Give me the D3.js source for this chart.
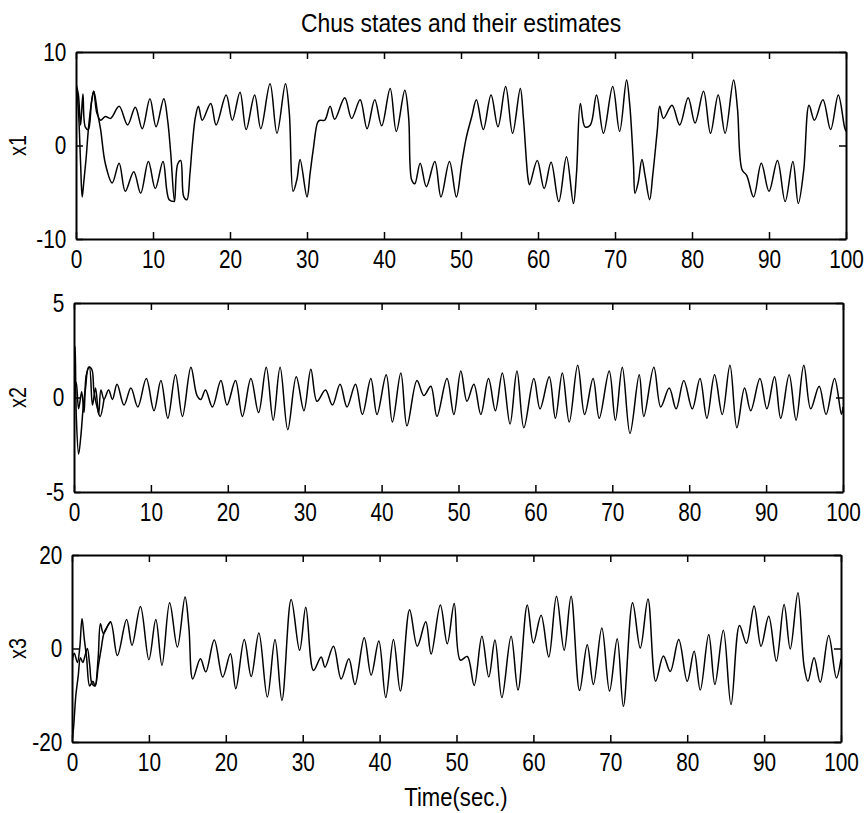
<!DOCTYPE html>
<html>
<head>
<meta charset="utf-8">
<script src="https://cdn.jsdelivr.net/npm/d3@7"></script>
<style>
  body { margin: 0; background: #fff; }
  svg text { fill: #000; }
</style>
</head>
<body>
<svg id="chart" width="864" height="813"></svg>
<script>
// x1: state (full run) and its estimate (only the start, later it sits on the state)
const x1Time = [0, 0.3, 0.6, 0.9, 1.2, 1.6, 2.0, 2.3, 2.7, 3.2, 3.8, 4.5, 5.6, 6.7, 7.7, 8.6, 9.6, 10.4, 11.4, 11.9,
  12.3, 12.8, 13.2, 13.6, 14.0, 14.4, 14.8, 15.1, 15.5, 15.9, 16.4, 17.5, 18.2, 19.5, 20.3, 21.3, 22.1, 23.2, 24.0, 25.2,
  26.1, 27.2, 27.7, 28.2, 28.7, 29.1, 30.0, 30.4, 30.8, 31.4, 31.7, 32.3, 33.0, 33.6, 34.9, 35.8, 36.9, 37.8, 38.8, 39.7,
  40.8, 41.6, 42.7, 43.2, 43.6, 44.0, 44.7, 45.5, 46.6, 47.4, 48.5, 49.4, 50.1, 50.7, 51.4, 52.0, 52.9, 53.9, 54.8, 55.8,
  56.7, 57.7, 58.1, 58.7, 58.9, 59.9, 60.8, 61.7, 62.7, 63.7, 64.6, 65.0, 65.5, 66.1, 66.8, 67.6, 68.5, 69.7, 70.6, 71.5,
  71.9, 72.4, 72.6, 73.0, 73.5, 73.9, 74.5, 74.9, 75.5, 75.8, 76.3, 77.4, 78.4, 79.5, 80.4, 81.5, 82.4, 83.4, 84.3, 85.4,
  85.9, 86.5, 87.1, 88.0, 89.0, 90.0, 91.1, 92.1, 93.1, 93.8, 94.5, 95.2, 95.9, 97.0, 98.0, 99.0, 99.8, 100];
const x1Value = [6.5, 5.5, 2.2, 5.5, 2.0, 1.7, 4.5, 5.8, 3.5, 2.7, 3.1, 2.9, 4.2, 2.2, 4.1, 1.8, 5.0, 2.0, 5.0, 2.7,
  -0.8, -6.0, -2.0, -1.6, -5.5, -5.8, -3.0, 0.0, 3.0, 4.2, 2.7, 4.5, 2.2, 5.4, 2.7, 5.7, 1.7, 5.4, 1.8, 6.6,
  1.3, 6.6, 3.5, -4.9, -3.6, -1.5, -5.5, -3.0, -0.5, 2.5, 2.7, 2.7, 4.2, 2.8, 5.1, 2.9, 4.9, 1.8, 4.9, 2.1,
  6.1, 1.5, 5.9, 3.0, -3.7, -4.1, -1.9, -4.4, -1.7, -5.5, -1.7, -5.5, -1.9, 0.9, 3.1, 4.9, 1.7, 5.4, 2.0, 6.3,
  1.3, 6.1, 3.0, -3.5, -4.2, -1.6, -4.6, -1.8, -6.0, -1.2, -6.2, -3.0, 4.5, 2.0, 2.2, 5.4, 1.3, 6.3, 1.5, 7.0,
  4.5, -2.0, -5.1, -4.0, -1.5, -3.2, -5.8, -3.2, 1.7, 4.2, 2.9, 4.3, 2.2, 5.1, 2.4, 5.8, 1.3, 5.4, 1.3, 7.0,
  4.0, -2.6, -3.2, -5.5, -1.9, -4.9, -1.6, -6.0, -1.7, -6.2, -2.7, 4.3, 2.7, 4.9, 1.7, 5.4, 2.0, 1.5];
const x1EstTime = [0, 0.3, 0.6, 0.8, 1.0, 1.3, 1.7, 2.3, 2.8, 3.2, 3.8, 4.7, 5.6, 6.4, 7.5, 8.4, 9.4, 10.3, 11.3, 12.1, 12.8];
const x1EstValue = [6.8, 4.0, -2.0, -5.5, -4.0, -1.5, 2.5, 5.8, 3.5, 1.7, -1.9, -4.0, -1.9, -4.9, -2.8, -5.1, -1.7, -4.6, -1.7, -5.8, -6.0];

// x2
const x2Time = [0, 0.3, 0.6, 1.0, 1.3, 1.6, 2.0, 2.4, 2.8, 3.2, 3.5, 3.9, 4.5, 5.0, 5.6, 6.5, 7.4, 8.3, 9.4, 10.4,
  11.3, 12.2, 13.2, 14.1, 15.2, 16.0, 16.5, 17.1, 18.0, 19.1, 19.9, 21.0, 21.9, 23.0, 24.0, 25.0, 25.9, 26.8, 27.8, 28.9,
  29.9, 30.8, 31.6, 32.7, 33.6, 34.6, 35.5, 36.6, 37.5, 38.6, 39.4, 40.6, 41.4, 42.5, 43.3, 44.6, 45.5, 46.4, 47.2, 48.5,
  49.4, 50.3, 51.1, 52.0, 52.9, 53.9, 54.8, 55.7, 56.7, 57.6, 58.5, 59.8, 60.6, 61.8, 62.6, 63.5, 64.4, 65.5, 66.4, 67.5,
  68.3, 69.6, 70.4, 71.3, 72.3, 73.5, 74.1, 75.4, 76.3, 77.4, 78.3, 79.3, 80.4, 81.4, 82.3, 83.3, 84.3, 85.3, 86.2, 87.2,
  88.0, 89.2, 90.1, 91.1, 91.9, 93.0, 93.9, 94.9, 95.8, 96.9, 97.8, 98.9, 99.8, 100];
const x2Value = [0.0, 0.8, -0.6, 0.3, -0.8, 1.2, 1.6, -0.4, 0.5, -0.9, 0.4, -0.1, 0.4, -0.1, 0.7, -0.4, 0.5, -0.5, 1.0, -0.7,
  0.9, -1.1, 1.2, -1.0, 1.6, 0.1, -0.1, 0.4, -0.5, 0.9, -0.4, 0.9, -1.0, 1.0, -0.8, 1.6, -1.2, 1.6, -1.7, 1.1,
  -0.7, 1.5, -0.2, 0.4, -0.4, 0.7, -0.5, 0.7, -0.9, 1.0, -0.9, 1.2, -1.3, 1.3, -1.5, 0.9, 0.1, 0.6, -1.0, 1.0,
  -0.9, 1.4, -0.2, 0.7, -0.9, 1.0, -0.7, 1.3, -1.4, 1.4, -1.6, 1.0, -0.6, 1.1, -1.1, 1.3, -1.3, 1.7, -0.9, 1.0,
  -1.1, 1.4, -1.2, 1.6, -1.9, 1.2, -1.0, 1.6, -0.5, 0.5, -0.6, 0.9, -0.6, 1.0, -1.1, 1.2, -0.9, 1.7, -1.6, 0.5,
  -0.7, 1.0, -0.6, 1.1, -1.1, 1.2, -1.2, 1.7, -0.6, 0.6, -0.9, 1.0, -0.9, -0.5];
const x2EstTime = [0, 0.15, 0.3, 0.6, 0.9, 1.2, 1.5, 1.9, 2.3, 2.6, 3.0, 3.4, 3.9];
const x2EstValue = [0.5, 2.7, -1.0, -3.0, -2.0, -0.5, 0.5, 1.6, 1.5, 0.3, -0.5, -1.0, -0.1];

// x3
const x3Time = [0, 0.3, 0.7, 1.0, 1.3, 1.6, 1.9, 2.3, 2.7, 3.0, 3.4, 3.7, 4.1, 5.0, 5.9, 7.1, 7.8, 8.9, 10.0, 10.9,
  11.7, 12.7, 13.7, 14.7, 15.2, 15.7, 16.7, 17.4, 18.5, 19.6, 20.6, 21.3, 22.4, 23.3, 24.3, 25.4, 26.4, 27.3, 28.5, 29.6,
  30.4, 31.4, 32.4, 32.9, 34.0, 35.0, 36.0, 36.8, 38.0, 38.9, 39.9, 40.8, 41.8, 42.7, 43.9, 44.9, 46.0, 46.7, 47.9, 48.8,
  49.7, 50.5, 51.4, 52.3, 53.3, 54.2, 55.0, 55.9, 57.1, 58.0, 59.2, 60.0, 61.0, 62.0, 63.0, 64.0, 64.9, 66.0, 67.0, 67.8,
  68.9, 69.9, 70.9, 71.7, 72.9, 73.9, 74.9, 75.9, 76.9, 77.8, 78.9, 80.0, 80.9, 81.7, 82.8, 83.6, 84.7, 85.7, 86.8, 87.7,
  88.7, 89.6, 90.6, 91.6, 92.6, 93.4, 94.4, 95.2, 95.7, 96.5, 97.3, 98.4, 99.4, 100];
const x3Value = [-3.0, -1.0, -3.0, 0.0, 6.4, 2.0, -2.0, -8.0, -7.0, -8.0, -2.0, 5.3, 3.2, 5.7, -1.5, 6.2, 0.7, 9.0, -2.4, 6.2,
  -3.6, 9.8, 0.3, 11.0, 4.5, -6.5, -2.2, -5.0, 1.8, -6.1, -1.1, -8.6, 1.9, -6.0, 3.3, -10.4, 1.9, -11.1, 10.5, -0.4,
  8.8, -4.7, -1.8, -4.0, 0.5, -6.5, -2.2, -7.7, 2.3, -5.7, 1.6, -10.5, 1.9, -9.1, 8.3, 0.5, 5.7, -1.2, 9.3, 1.0,
  9.6, -2.5, -1.7, -7.9, 2.6, -6.1, 1.8, -10.5, 2.6, -8.9, 9.3, 1.2, 7.1, -1.8, 11.2, -0.4, 11.2, -9.0, 0.8, -7.7,
  4.4, -9.1, 2.1, -12.4, 9.8, 0.1, 10.6, -7.0, -1.6, -4.9, 1.9, -7.0, -0.6, -8.9, 3.0, -7.7, 3.9, -12.0, 4.9, 1.1,
  9.1, 0.5, 6.9, -2.7, 9.4, -0.1, 11.9, -3.8, -7.0, -2.0, -7.2, 2.8, -6.3, -2.2];
const x3EstTime = [0, 0.2, 0.5, 0.8, 1.1, 1.4, 1.7, 2.0, 2.3, 2.6, 3.0, 3.4, 3.8, 4.2, 5.0];
const x3EstValue = [-20, -17, -10, -6, -2, -3, -1.5, 0.0, -3.5, -7.5, -8.0, -4.0, 0.0, 3.5, 5.7];

const timeTicks = [0, 10, 20, 30, 40, 50, 60, 70, 80, 90, 100];

const panels = [
  { label: "x1", time: x1Time, value: x1Value, estTime: x1EstTime, estValue: x1EstValue,
    domain: [-10, 10], ticks: [-10, 0, 10], left: 76, right: 846, top: 52, bottom: 239 },
  { label: "x2", time: x2Time, value: x2Value, estTime: x2EstTime, estValue: x2EstValue,
    domain: [-5, 5], ticks: [-5, 0, 5], left: 74, right: 843, top: 303, bottom: 492 },
  { label: "x3", time: x3Time, value: x3Value, estTime: x3EstTime, estValue: x3EstValue,
    domain: [-20, 20], ticks: [-20, 0, 20], left: 72, right: 841, top: 555, bottom: 742 }
];

const font = "'Liberation Sans', Arial, sans-serif";
const plain = d => String(d); // matlab style "-10", not a unicode minus
const svg = d3.select("#chart");

svg.append("text")
  .attr("transform", "translate(461,32) scale(0.88,1)")
  .attr("text-anchor", "middle")
  .attr("font-family", font)
  .attr("font-size", 26)
  .text("Chus states and their estimates");

panels.forEach((p, i) => {
  const x = d3.scaleLinear().domain([0, 100]).range([p.left, p.right]);
  const y = d3.scaleLinear().domain(p.domain).range([p.bottom, p.top]);

  svg.append("clipPath").attr("id", "clip" + i)
    .append("rect")
    .attr("x", p.left).attr("y", p.top)
    .attr("width", p.right - p.left).attr("height", p.bottom - p.top);

  const line = d3.line()
    .x(d => x(d[0]))
    .y(d => y(d[1]))
    .curve(d3.curveCatmullRom.alpha(0.5));

  const plot = svg.append("g").attr("clip-path", `url(#clip${i})`);
  plot.append("path")
    .datum(d3.zip(p.estTime, p.estValue))
    .attr("fill", "none")
    .attr("stroke", "#000")
    .attr("stroke-width", 1.5)
    .attr("d", line);
  plot.append("path")
    .datum(d3.zip(p.time, p.value))
    .attr("fill", "none")
    .attr("stroke", "#000")
    .attr("stroke-width", 1.5)
    .attr("d", line);

  // axes, ticks pointing inward on all four sides
  const bottom = svg.append("g")
    .attr("transform", `translate(0,${p.bottom})`)
    .call(d3.axisBottom(x).tickValues(timeTicks).tickFormat(plain).tickSizeInner(-7).tickSizeOuter(0).tickPadding(11));
  const top = svg.append("g")
    .attr("transform", `translate(0,${p.top})`)
    .call(d3.axisTop(x).tickValues(timeTicks).tickSizeInner(-7).tickSizeOuter(0).tickFormat(""));
  const left = svg.append("g")
    .attr("transform", `translate(${p.left},0)`)
    .call(d3.axisLeft(y).tickValues(p.ticks).tickFormat(plain).tickSizeInner(-7).tickSizeOuter(0).tickPadding(12));
  const right = svg.append("g")
    .attr("transform", `translate(${p.right},0)`)
    .call(d3.axisRight(y).tickValues(p.ticks).tickSizeInner(-7).tickSizeOuter(0).tickFormat(""));

  [bottom, top, left, right].forEach(a => {
    a.attr("font-family", font).attr("font-size", 26);
    a.select(".domain").attr("stroke-width", 2);
    a.selectAll(".tick line").attr("stroke-width", 1.5);
  });
  bottom.selectAll(".tick text").attr("transform", "scale(0.8,1)");
  left.selectAll(".tick text").attr("transform", "scale(0.8,1)");

  svg.append("text")
    .attr("transform", `translate(18,${(p.top + p.bottom) / 2}) rotate(-90) scale(0.82,1)`)
    .attr("text-anchor", "middle")
    .attr("dy", "0.35em")
    .attr("font-family", font)
    .attr("font-size", 24)
    .text(p.label);
});

svg.append("text")
  .attr("transform", "translate(456,806) scale(0.85,1)")
  .attr("text-anchor", "middle")
  .attr("font-family", font)
  .attr("font-size", 26)
  .text("Time(sec.)");
</script>
</body>
</html>
